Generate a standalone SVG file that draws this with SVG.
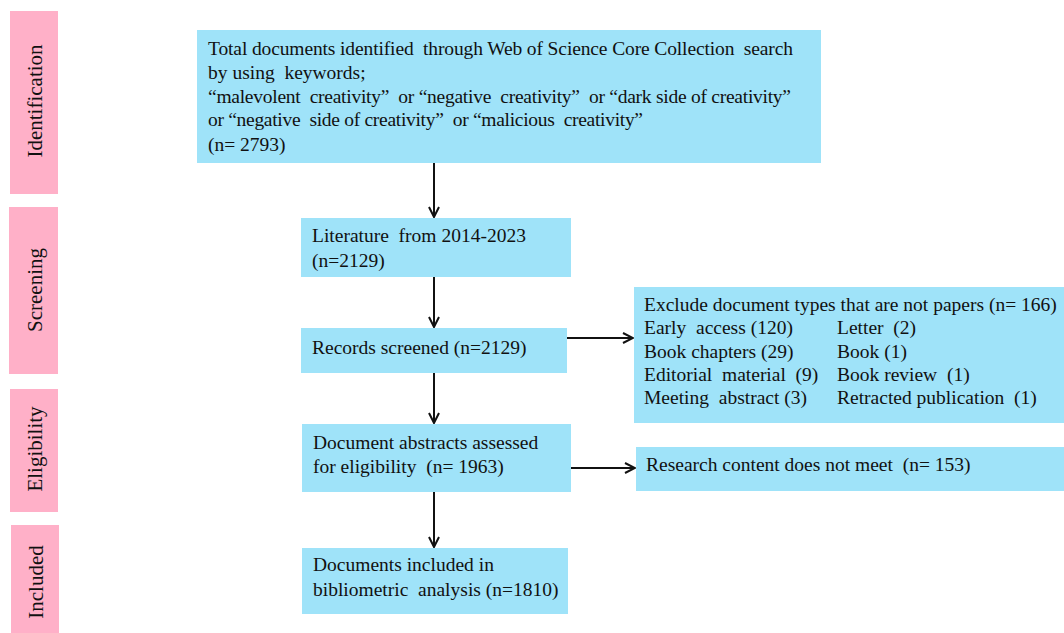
<svg xmlns="http://www.w3.org/2000/svg" width="1064" height="633" viewBox="0 0 1064 633">
  <style>
    .stage { fill: #ffb0c8; }
    .box { fill: #9fe3f9; }
    .t { font-family: "Liberation Serif", "Times New Roman", serif; font-size: 19.5px; fill: #111; white-space: pre; }
    .st { font-family: "Liberation Serif", "Times New Roman", serif; font-size: 21px; fill: #111; text-anchor: middle; }
    .edge { stroke: #111; stroke-width: 2; fill: none; marker-end: url(#arrow); }
  </style>
  <defs>
    <marker id="arrow" viewBox="0 0 12 12" refX="11" refY="6" markerWidth="12" markerHeight="12" markerUnits="userSpaceOnUse" orient="auto">
      <path d="M1,1 L11,6 L1,11" stroke="#111" stroke-width="2" fill="none"/>
    </marker>
  </defs>
  <rect width="1064" height="633" fill="#ffffff"/>

  <!-- stage labels -->
  <g id="stage-identification">
    <rect class="stage" x="10" y="11" width="48" height="183"/>
    <text class="st" transform="translate(42,101) rotate(-90)">Identification</text>
  </g>
  <g id="stage-screening">
    <rect class="stage" x="9" y="207" width="49" height="167"/>
    <text class="st" transform="translate(42,290) rotate(-90)">Screening</text>
  </g>
  <g id="stage-eligibility">
    <rect class="stage" x="10" y="389" width="48" height="123"/>
    <text class="st" transform="translate(42,449) rotate(-90)">Eligibility</text>
  </g>
  <g id="stage-included">
    <rect class="stage" x="11" y="525" width="48" height="108"/>
    <text class="st" transform="translate(43,582) rotate(-90)">Included</text>
  </g>

  <!-- process boxes -->
  <g id="identified">
    <rect class="box" x="197" y="30" width="624" height="133"/>
    <text class="t" x="208" y="55" textLength="585" lengthAdjust="spacing">Total documents identified  through Web of Science Core Collection  search</text>
    <text class="t" x="208" y="79">by using  keywords;</text>
    <text class="t" x="208" y="103" textLength="583" lengthAdjust="spacing">“malevolent  creativity”  or “negative  creativity”  or “dark side of creativity”</text>
    <text class="t" x="208" y="126" textLength="435" lengthAdjust="spacing">or “negative  side of creativity”  or “malicious  creativity”</text>
    <text class="t" x="208" y="151">(n= 2793)</text>
  </g>
  <g id="literature">
    <rect class="box" x="301" y="218" width="270" height="59"/>
    <text class="t" x="312" y="242">Literature  from 2014-2023</text>
    <text class="t" x="312" y="267">(n=2129)</text>
  </g>
  <g id="screened">
    <rect class="box" x="301" y="328" width="266" height="45"/>
    <text class="t" x="312" y="354">Records screened (n=2129)</text>
  </g>
  <g id="excluded-types">
    <rect class="box" x="634" y="287" width="430" height="136"/>
    <text class="t" x="644" y="311">Exclude document types that are not papers (n= 166)</text>
    <text class="t" x="644" y="334">Early  access (120)</text>
    <text class="t" x="837" y="334">Letter  (2)</text>
    <text class="t" x="644" y="358">Book chapters (29)</text>
    <text class="t" x="837" y="358">Book (1)</text>
    <text class="t" x="644" y="381">Editorial  material  (9)</text>
    <text class="t" x="837" y="381">Book review  (1)</text>
    <text class="t" x="644" y="404">Meeting  abstract (3)</text>
    <text class="t" x="837" y="404">Retracted publication  (1)</text>
  </g>
  <g id="abstracts">
    <rect class="box" x="302" y="424" width="269" height="68"/>
    <text class="t" x="313" y="449">Document abstracts assessed</text>
    <text class="t" x="313" y="473">for eligibility  (n= 1963)</text>
  </g>
  <g id="excluded-content">
    <rect class="box" x="636" y="447" width="428" height="44"/>
    <text class="t" x="646" y="471">Research content does not meet  (n= 153)</text>
  </g>
  <g id="included">
    <rect class="box" x="302" y="548" width="266" height="66"/>
    <text class="t" x="313" y="571">Documents included in</text>
    <text class="t" x="313" y="596">bibliometric  analysis (n=1810)</text>
  </g>

  <!-- connectors -->
  <g id="connectors">
    <line class="edge" x1="434" y1="163" x2="434" y2="217"/>
    <line class="edge" x1="434" y1="277" x2="434" y2="327"/>
    <line class="edge" x1="434" y1="373" x2="434" y2="423"/>
    <line class="edge" x1="434" y1="492" x2="434" y2="547"/>
    <line class="edge" x1="567" y1="338" x2="633" y2="338"/>
    <line class="edge" x1="571" y1="468" x2="635" y2="468"/>
  </g>
</svg>
